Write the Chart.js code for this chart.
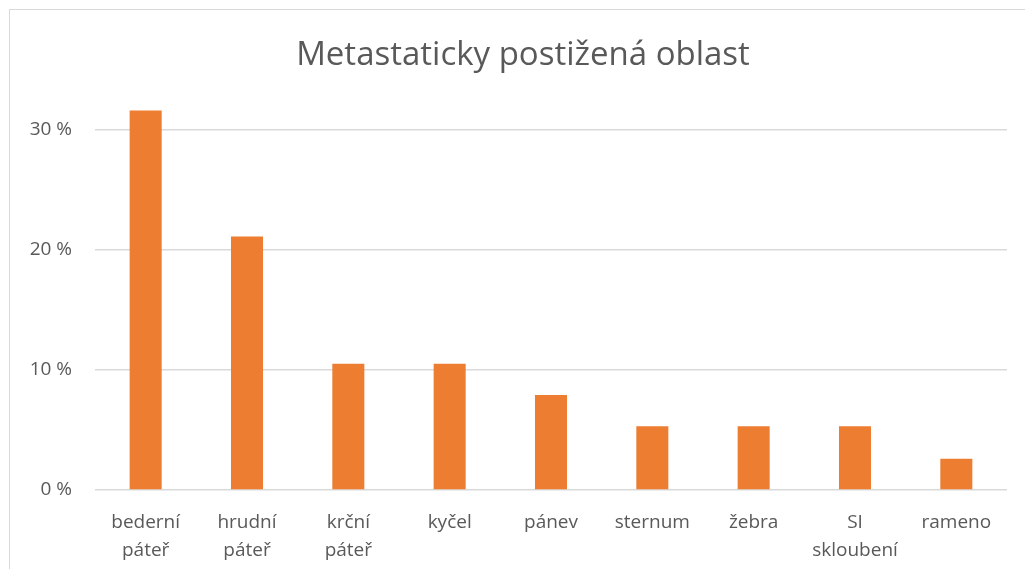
<!DOCTYPE html>
<html>
<head>
<meta charset="utf-8">
<script src="https://cdn.jsdelivr.net/npm/chart.js@4"></script>
<style>
  html, body { margin: 0; padding: 0; background: #fff; }
  #wrap { position: relative; width: 1025px; height: 569px; overflow: hidden; }
  #frame { position: absolute; left: 9px; top: 9px; width: 1100px; height: 700px;
           border-left: 1px solid #d9d9d9; border-top: 1px solid #d9d9d9; }
  canvas { position: absolute; left: 0; top: 0; }
</style>
</head>
<body>
<div id="wrap">
  <div id="frame"></div>
  <canvas id="chart" width="1025" height="569"></canvas>
</div>
<script>
/* ===================== DATA ===================== */
const categories = [
  ["bederní", "páteř"],
  ["hrudní", "páteř"],
  ["krční", "páteř"],
  "kyčel",
  "pánev",
  "sternum",
  "žebra",
  ["SI", "skloubení"],
  "rameno"
];
const values = [31.6, 21.1, 10.5, 10.5, 7.9, 5.3, 5.3, 5.3, 2.6];
const yTicks = [0, 10, 20, 30];

const TEXT = "#595959";
const GRID = "#d9d9d9";
const FONT = "'Open Sans', 'Liberation Sans', sans-serif";

/* centre the title on the frame, not on the canvas */
const shiftTitle = {
  id: "shiftTitle",
  afterLayout(chart) {
    const t = chart.titleBlock;
    if (t) { t.left = 39; t.right = 1007; }
  }
};

/* ===================== CHART ===================== */
new Chart(document.getElementById("chart"), {
  type: "bar",
  data: {
    labels: categories,
    datasets: [{
      data: values,
      backgroundColor: "#ed7d31",
      categoryPercentage: 1,
      barPercentage: 0.316
    }]
  },
  options: {
    responsive: false,
    animation: false,
    layout: { padding: { left: 0, right: 18, top: 0, bottom: 0 } },
    plugins: {
      legend: { display: false },
      tooltip: { enabled: false },
      title: {
        display: true,
        text: "Metastaticky postižená oblast",
        color: TEXT,
        font: { family: FONT, size: 33, weight: "normal", lineHeight: 1.2 },
        padding: { top: 36, bottom: 18 }
      }
    },
    scales: {
      x: {
        grid: { display: false },
        border: { display: false },
        ticks: {
          color: TEXT,
          font: { family: FONT, size: 19, lineHeight: 1.45 },
          padding: 11,
          maxRotation: 0,
          autoSkip: false
        },
        afterFit: s => { s.height = 79; }
      },
      y: {
        min: 0,
        max: 33,
        grid: { color: GRID, drawTicks: false, lineWidth: 1.5 },
        border: { display: false },
        afterBuildTicks: s => { s.ticks = yTicks.map(v => ({ value: v })); },
        ticks: {
          color: TEXT,
          font: { family: FONT, size: 19 },
          padding: 23,
          callback: v => v + " %"
        },
        afterFit: s => { s.width = 95; }
      }
    }
  },
  plugins: [shiftTitle]
});
</script>
</body>
</html>
